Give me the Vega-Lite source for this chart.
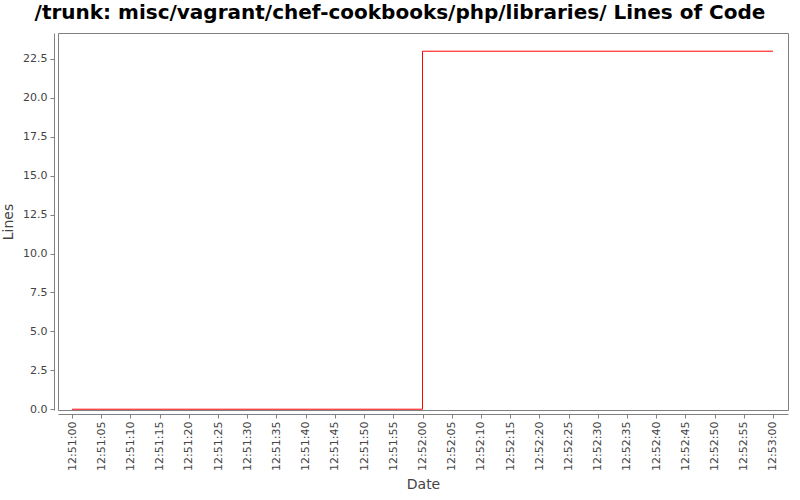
{
  "$schema": "https://vega.github.io/schema/vega-lite/v6.json",
  "autosize": "none",
  "width": 730,
  "height": 377,
  "padding": {"left": 58, "top": 33, "right": 12, "bottom": 90},
  "background": "white",
  "title": {
    "text": "/trunk: misc/vagrant/chef-cookbooks/php/libraries/ Lines of Code",
    "font": "DejaVu Sans",
    "fontSize": 20,
    "fontWeight": "bold",
    "color": "black",
    "anchor": "middle",
    "dx": -23,
    "offset": 10
  },
  "config": {
    "view": {"stroke": "#808080", "strokeWidth": 1},
    "axis": {
      "labelFont": "DejaVu Sans",
      "labelFontSize": 11,
      "labelColor": "#444444",
      "titleFont": "DejaVu Sans",
      "titleFontSize": 14,
      "titleFontWeight": "normal",
      "titleColor": "#444444",
      "domainColor": "#808080",
      "tickColor": "#808080",
      "tickSize": 4,
      "grid": false,
      "offset": 4
    }
  },
  "data": {
    "values": [
      {"Date": "2013-01-01T12:51:00", "Lines": 0},
      {"Date": "2013-01-01T12:52:00", "Lines": 23},
      {"Date": "2013-01-01T12:53:00", "Lines": 23}
    ]
  },
  "mark": {"type": "line", "interpolate": "step-after", "color": "#ff0000", "strokeWidth": 1},
  "encoding": {
    "x": {
      "field": "Date",
      "type": "temporal",
      "title": "Date",
      "scale": {
        "domain": [
          {"year": 2013, "month": 1, "date": 1, "hours": 12, "minutes": 50, "seconds": 57, "milliseconds": 600},
          {"year": 2013, "month": 1, "date": 1, "hours": 12, "minutes": 53, "seconds": 2, "milliseconds": 570}
        ],
        "nice": false
      },
      "axis": {
        "format": "%H:%M:%S",
        "tickCount": 25,
        "labelAngle": 270,
        "labelPadding": 3,
        "titlePadding": 7,
        "labelOverlap": false
      }
    },
    "y": {
      "field": "Lines",
      "type": "quantitative",
      "title": "Lines",
      "scale": {"domain": [-0.05, 24.17], "nice": false, "zero": false},
      "axis": {
        "values": [0, 2.5, 5, 7.5, 10, 12.5, 15, 17.5, 20, 22.5],
        "format": ".1f",
        "labelPadding": 3,
        "titlePadding": 7
      }
    }
  }
}
